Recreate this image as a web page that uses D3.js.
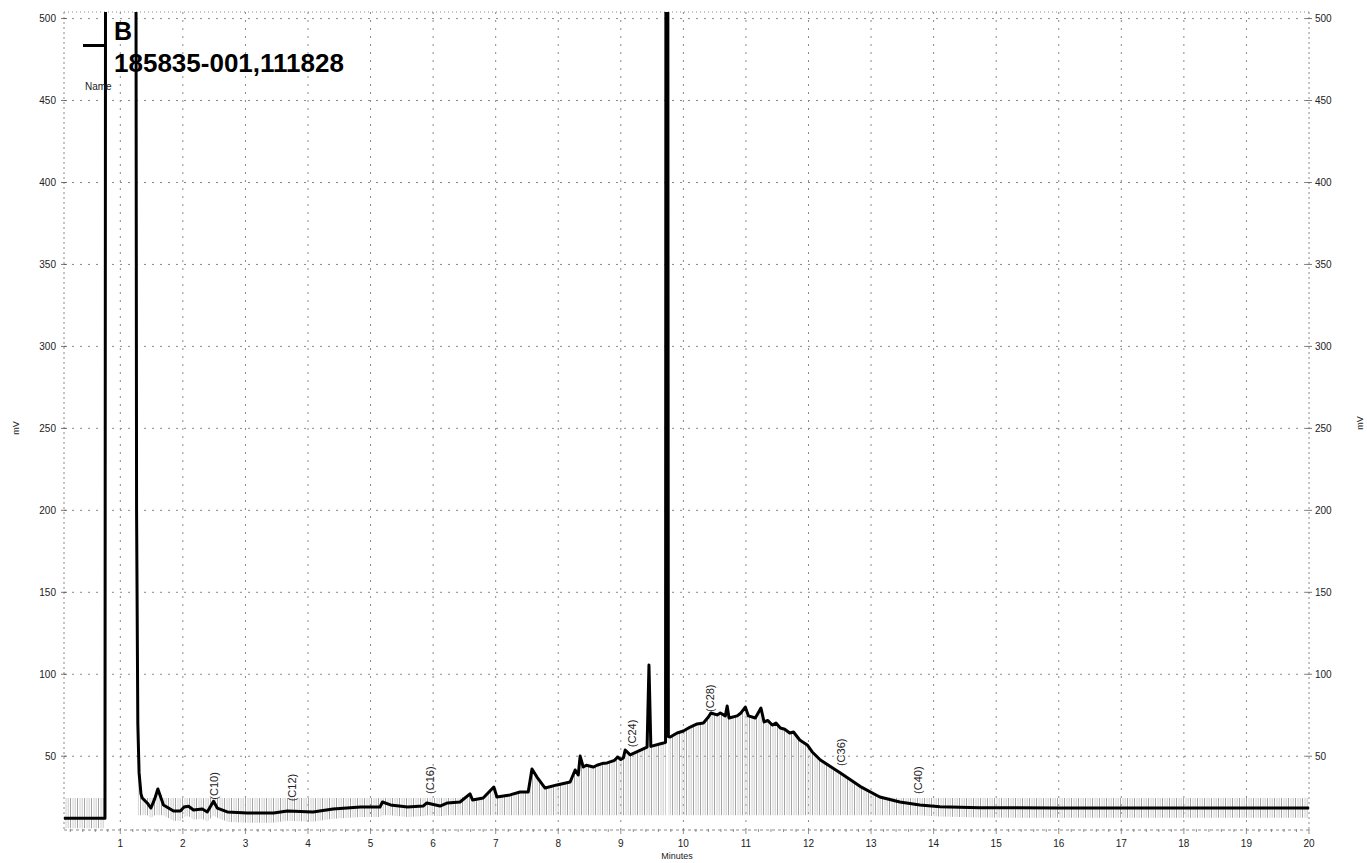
<!DOCTYPE html>
<html>
<head>
<meta charset="utf-8">
<script src="https://d3js.org/d3.v7.min.js"></script>
<style>
  body { margin: 0; background: #fff; }
  svg { font-family: "Liberation Sans", Arial, sans-serif; }
  .grid line { stroke: #8a8a8a; stroke-width: 1; stroke-dasharray: 2,6; }
  .tick-label { font-size: 10px; fill: #222; }
  .peak-label { font-size: 11px; fill: #222; }
</style>
</head>
<body>
<svg id="chart"></svg>
<script>
// chromatogram trace: [minutes, mV]
// off-scale peaks (solvent + big one near 9.7) just get a big value and are clipped
var traceTimes = [0.10, 0.755, 0.77, 1.24, 1.26, 1.28, 1.30, 1.33, 1.35, 1.43, 1.49, 1.55, 1.60, 1.69,
  1.85, 1.96, 2.02, 2.09, 2.17, 2.31, 2.39, 2.49, 2.55, 2.71, 3.03, 3.45, 3.67, 4.08, 4.40, 4.84,
  5.15, 5.19, 5.32, 5.59, 5.84, 5.90, 6.11, 6.23, 6.43, 6.59, 6.63, 6.80, 6.97, 7.02, 7.23, 7.39,
  7.52, 7.58, 7.66, 7.79, 7.98, 8.19, 8.27, 8.32, 8.35, 8.40, 8.45, 8.56, 8.62, 8.70, 8.78, 8.90,
  8.95, 9.00, 9.04, 9.07, 9.15, 9.42,
  9.45, 9.48, 9.68, 9.715, 9.725, 9.745, 9.76, 9.79, 9.90, 10.00, 10.11, 10.22, 10.32, 10.40, 10.44,
  10.54, 10.59, 10.67, 10.70, 10.73, 10.86, 10.92, 10.99, 11.04, 11.15, 11.24, 11.29, 11.35, 11.42,
  11.48, 11.55, 11.62, 11.70, 11.76, 11.86,
  11.98, 12.06, 12.19, 12.51, 12.83, 13.14, 13.46, 13.78, 14.10, 14.74, 16.00, 18.00, 20.00];
var traceValues = [12.1, 12.1, 900, 900, 200, 70, 40, 27, 24.5, 21.5, 18.4, 24, 30, 20.3,
  16.6, 16.6, 19, 19.5, 17.2, 17.8, 16.0, 22.5, 18.4, 16.0, 15.4, 15.4, 16.6, 16.0, 17.8, 19,
  19, 22.1, 20.3, 19, 19.6, 21.5, 19.6, 21.5, 22.1, 27, 23.3, 24.5, 31.2, 25.1, 26.4, 28.2,
  28.2, 42.2, 37.3, 30.6, 32.5, 34.3, 41.6, 38.6, 50.1, 43.4, 44.5, 43.4, 44.5, 45.5, 45.9, 47.5,
  49.5, 48, 48.9, 53.8, 50.8, 55.6,
  105.7, 56, 58.1, 58.5, 900, 900, 62, 61.7, 64.2, 65.4, 67.8, 69.7, 70.3, 73.9, 76.4,
  75.2, 76.4, 74.6, 80.7, 73.3, 74.6, 76.4, 80, 74.6, 73.3, 79.4, 70.9, 71.8, 69,
  70.2, 67.2, 66.5, 64.2, 64.8, 59.9,
  56.9, 52.6, 47.7, 39.8, 31.5, 25.1, 22.1, 20.3, 19.2, 18.6, 18.4, 18.4, 18.4];

// peak name labels
var peakNames = ["(C10)", "(C12)", "(C16)", "(C24)", "(C28)", "(C36)", "(C40)"];
var peakTimes = [2.50, 3.75, 5.95, 9.18, 10.43, 12.52, 13.75];
var peakLabelMv = [23.5, 22.5, 27, 55.5, 77, 44, 27];

var minuteTicks = d3.range(1, 21);
var mvTicks = [50, 100, 150, 200, 250, 300, 350, 400, 450, 500];

var sampleLetter = "B";
var sampleName = "185835-001,111828";

var width = 1367, height = 863;
// careful: "top" is taken by window.top
var pLeft = 64, pRight = 1309, pTop = 12, pBottom = 830;

var svg = d3.select('#chart').attr('width', width).attr('height', height);

var x = d3.scaleLinear().domain([0.1, 20]).range([pLeft, pRight]);
var y = d3.scaleLinear().domain([5, 504]).range([pBottom, pTop]);

var data = traceTimes.map((t, i) => ({t: t, v: traceValues[i]}));

var defs = svg.append('defs');
defs.append('clipPath').attr('id', 'plotclip')
  .append('rect').attr('x', pLeft).attr('y', pTop).attr('width', pRight - pLeft).attr('height', pBottom - pTop);

// stripe pattern for the integration hatching
var pat = defs.append('pattern')
  .attr('id', 'hatch').attr('patternUnits', 'userSpaceOnUse')
  .attr('width', 7).attr('height', 10);
pat.append('line').attr('x1', 0.5).attr('x2', 0.5).attr('y1', 0).attr('y2', 10)
  .attr('stroke', '#9a9a9a').attr('stroke-width', 0.9);
pat.append('line').attr('x1', 3).attr('x2', 3).attr('y1', 0).attr('y2', 10)
  .attr('stroke', '#c4c4c4').attr('stroke-width', 0.8);
pat.append('line').attr('x1', 5.2).attr('x2', 5.2).attr('y1', 0).attr('y2', 10)
  .attr('stroke', '#b0b0b0').attr('stroke-width', 0.7);

// grid
var grid = svg.append('g').attr('class', 'grid');
grid.selectAll('.vx').data(minuteTicks.filter(d => d < 20)).enter().append('line')
  .attr('x1', d => x(d)).attr('x2', d => x(d)).attr('y1', pTop).attr('y2', pBottom);
grid.selectAll('.hy').data(mvTicks).enter().append('line')
  .attr('x1', pLeft).attr('x2', pRight).attr('y1', d => y(d)).attr('y2', d => y(d));
grid.append('line').attr('x1', pLeft).attr('x2', pRight).attr('y1', pTop).attr('y2', pTop)
  .style('stroke-dasharray', '1,3');
grid.append('line').attr('x1', pLeft).attr('x2', pLeft).attr('y1', pTop).attr('y2', pBottom)
  .style('stroke-dasharray', '2,3');
grid.append('line').attr('x1', pRight).attr('x2', pRight).attr('y1', pTop).attr('y2', pBottom)
  .style('stroke-dasharray', '2,3');
grid.append('line').attr('x1', pLeft).attr('x2', pRight).attr('y1', pBottom).attr('y2', pBottom)
  .style('stroke-dasharray', '3,3');

// bottom minor ticks
svg.append('g').selectAll('line').data(d3.range(0.2, 20.01, 0.2)).enter().append('line')
  .attr('x1', d => x(d)).attr('x2', d => x(d))
  .attr('y1', pBottom - 1).attr('y2', d => Math.abs(d - Math.round(d)) < 0.01 ? pBottom + 4 : pBottom + 2)
  .attr('stroke', '#777').attr('stroke-width', 0.8);

// hatching under the trace
var hatchArea = d3.area()
  .defined(d => d.v < 150)
  .x(d => x(d.t))
  .y0(d => y(Math.min(d.v - 6, 14)))
  .y1(d => y(Math.max(d.v, 24.5)));
svg.append('path').datum(data)
  .attr('clip-path', 'url(#plotclip)')
  .attr('fill', 'url(#hatch)')
  .attr('d', hatchArea);

// the trace
var line = d3.line().x(d => x(d.t)).y(d => y(d.v));
svg.append('path').datum(data)
  .attr('clip-path', 'url(#plotclip)')
  .attr('fill', 'none')
  .attr('stroke', '#000')
  .attr('stroke-width', 3)
  .attr('stroke-linejoin', 'round')
  .attr('d', line);

// axis labels
svg.append('g').selectAll('text').data(minuteTicks).enter().append('text')
  .attr('class', 'tick-label')
  .attr('x', d => x(d)).attr('y', 847)
  .attr('text-anchor', 'middle')
  .text(d => d);

svg.append('g').selectAll('text').data(mvTicks).enter().append('text')
  .attr('class', 'tick-label')
  .attr('x', 56).attr('y', d => y(d) + 3.5)
  .attr('text-anchor', 'end')
  .text(d => d);
svg.append('g').selectAll('text').data(mvTicks).enter().append('text')
  .attr('class', 'tick-label')
  .attr('x', 1315).attr('y', d => y(d) + 3.5)
  .text(d => d);

// small crosses on the y axes
[pLeft, pRight].forEach(ax => {
  svg.append('g').selectAll('line').data(mvTicks).enter().append('line')
    .attr('x1', ax - 3).attr('x2', ax + 3)
    .attr('y1', d => y(d)).attr('y2', d => y(d))
    .attr('stroke', '#555').attr('stroke-width', 0.8);
});

svg.append('text').attr('class', 'tick-label').style('font-size', '9px')
  .attr('x', x(9.9)).attr('y', 859).attr('text-anchor', 'middle').text('Minutes');
svg.append('text').attr('class', 'tick-label').style('font-size', '9px')
  .attr('transform', 'translate(19,428) rotate(-90)').attr('text-anchor', 'middle').text('mV');
svg.append('text').attr('class', 'tick-label').style('font-size', '9px')
  .attr('transform', 'translate(1363,423) rotate(-90)').attr('text-anchor', 'middle').text('mV');

// peak labels, rotated
svg.append('g').selectAll('text').data(peakNames).enter().append('text')
  .attr('class', 'peak-label')
  .attr('transform', (d, i) => 'translate(' + (x(peakTimes[i]) + 4) + ',' + y(peakLabelMv[i]) + ') rotate(-90)')
  .text(d => d);

// legend block
svg.append('line').attr('x1', 83).attr('x2', 106).attr('y1', 45.5).attr('y2', 45.5)
  .attr('stroke', '#000').attr('stroke-width', 3);
svg.append('text').attr('x', 114).attr('y', 40)
  .style('font-size', '25px').style('font-weight', 'bold').text(sampleLetter);
svg.append('text').attr('x', 114).attr('y', 72)
  .style('font-size', '26px').style('font-weight', 'bold').text(sampleName);
svg.append('text').attr('x', 85).attr('y', 90)
  .style('font-size', '10px').style('fill', '#222').text('Name');
</script>
</body>
</html>
